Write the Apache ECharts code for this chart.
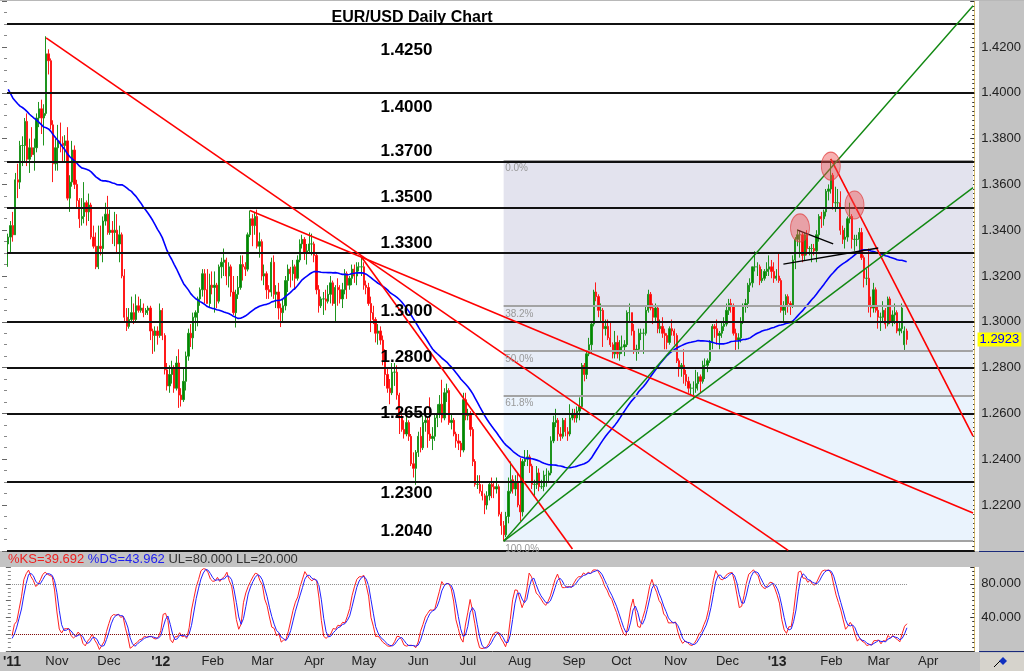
<!DOCTYPE html>
<html><head><meta charset="utf-8">
<script src="https://cdn.jsdelivr.net/npm/echarts@6/dist/echarts.min.js"></script>
<style>html,body{margin:0;padding:0;background:#fff;}#c{width:1024px;height:671px;}</style>
</head><body><div id="c"></div>
<script>
// ---------------- DATA (prices in 1/10000 units, EUR/USD daily, 5 Oct 2011 .. 19 Mar 2013) ----------------
const opens = [
13340,13370,13420,13380,13620,13610,13770,13770,13875,13710,13760,13730,13760,13890,13930,13890,13910,14170,14140,
13860,13690,13760,13790,13780,13770,13790,13540,13610,13750,13600,13530,13450,13460,13520,13480,13510,13370,13330,13240,13330,13320,
13440,13470,13390,13400,13390,13400,13340,13380,13200,13020,12980,13010,13040,13010,13070,13050,13060,13040,13050,13060,12960,12940,
12960,12940,13050,12940,12790,12720,12770,12800,12710,12820,12680,12660,12740,12850,12950,12930,13020,13040,13100,13140,13210,13140,
13080,13160,13150,13160,13090,13240,13260,13270,13200,13240,13130,13040,13120,13150,13250,13240,13230,13380,13450,13420,13460,
13330,13350,13200,13210,13140,13130,13260,13120,13130,13060,13040,13070,13180,13230,13210,13240,13190,13270,13340,13360,13300,13310,
13340,13340,13290,13140,13070,13100,13100,13090,13120,13170,13080,13150,13140,13100,13140,13210,13160,13190,13230,13200,13240,
13240,13240,13160,13150,13080,13040,13010,12950,12960,12920,12830,12770,12710,12690,12780,12780,12680,12580,12530,12510,12560,12500,12380,
12360,12430,12500,12450,12560,12570,12510,12490,12500,12580,12600,12640,12580,12690,12700,12560,12570,12510,12480,12470,12440,
12660,12590,12600,12530,12390,12290,12290,12260,12240,12200,12240,12290,12280,12270,12280,12160,12110,12070,12150,12260,12310,12270,
12300,12200,12170,12390,12400,12410,12370,12290,12290,12340,12280,12280,12330,12330,12340,12480,12560,12570,12510,12500,12570,12520,12510,
12580,12600,12580,12610,12630,12810,12770,12860,12900,12990,13130,13110,13050,13050,12970,12980,12930,12900,12860,12910,
12860,12890,12890,12900,13040,13040,12960,12870,12880,12950,12950,12950,13050,13120,13060,13020,13060,12970,12980,12950,12940,12910,12970,
12960,12940,12830,12800,12810,12770,12740,12710,12710,12710,12730,12760,12740,12810,12810,12830,12910,12980,12970,12940,12950,12980,
12990,13050,13080,13070,12950,12920,12930,13000,13070,13080,13160,13170,13240,13240,13240,13180,13190,13220,13230,13240,13220,
13190,13200,13180,13050,13070,13110,13080,13070,13270,13360,13380,13380,13290,13380,13320,13320,13320,13310,13380,13460,13450,13480,13570,
13580,13640,13520,13520,13520,13400,13360,13370,13450,13460,13360,13360,13360,13390,13280,13190,13190,13070,13060,13140,
13050,13020,13020,13050,12990,13100,13000,13030,13040,12960,12970,12900,12960];
const highs = [
13385,13440,13480,13650,13690,13790,13810,13890,13910,13800,13850,13800,13910,13960,13970,13950,14247,14190,14150,
13880,13800,13860,13870,13810,13815,13850,13640,13790,13770,13620,13540,13540,13610,13530,13560,13520,13420,13390,13420,13420,13460,
13520,13550,13490,13440,13480,13470,13420,13390,13230,13060,13060,13110,13080,13120,13110,13100,13080,13060,13070,13070,12970,12980,
12980,13080,13060,12950,12820,12810,12830,12810,12850,12880,12710,12800,12870,12970,12990,13040,13050,13110,13150,13230,13230,13230,
13210,13220,13220,13170,13250,13280,13320,13280,13260,13250,13200,13140,13200,13290,13290,13260,13390,13486,13470,13480,13490,
13390,13360,13250,13220,13160,13280,13290,13160,13170,13080,13100,13200,13250,13240,13270,13250,13290,13360,13380,13370,13340,13390,
13385,13350,13300,13160,13110,13130,13140,13160,13200,13180,13160,13190,13160,13170,13230,13220,13200,13250,13250,13260,13260,
13283,13260,13180,13170,13110,13070,13020,12990,12980,12940,12880,12800,12750,12820,12820,12810,12690,12620,12570,12590,12570,12510,12430,
12440,12520,12540,12590,12620,12580,12670,12540,12600,12640,12680,12747,12710,12730,12710,12600,12580,12520,12510,12480,12690,
12690,12620,12610,12540,12400,12330,12330,12290,12250,12260,12300,12320,12300,12320,12290,12170,12130,12170,12320,12390,12330,12330,
12340,12405,12400,12440,12440,12420,12380,12310,12370,12360,12310,12350,12360,12350,12500,12590,12620,12580,12540,12580,12580,12540,12640,
12620,12620,12630,12670,12820,12820,12870,12930,13000,13140,13172,13120,13080,13060,13010,13010,13000,12910,12960,12940,
12920,12940,12920,13050,13080,13040,12990,12900,12970,12970,12970,13070,13140,13130,13080,13080,13070,13010,13020,12970,12950,12980,13010,
12970,12950,12840,12820,12880,12790,12760,12730,12740,12790,12780,12770,12830,12840,12840,12920,12990,12990,13010,12960,13000,13020,
13080,13100,13100,13080,12970,12950,13020,13080,13100,13170,13190,13240,13308,13260,13250,13230,13230,13260,13290,13270,13260,
13230,13300,13190,13090,13120,13120,13090,13290,13370,13404,13400,13390,13390,13400,13330,13340,13340,13400,13470,13480,13490,13580,13600,
13711,13650,13590,13580,13570,13420,13410,13460,13520,13470,13380,13380,13410,13410,13290,13230,13320,13110,13170,13150,
13070,13040,13090,13060,13110,13110,13050,13080,13050,13000,13080,12980,12970];
const lows = [
13240,13300,13350,13380,13540,13580,13680,13700,13680,13650,13720,13660,13740,13850,13820,13770,13900,14080,13840,
13610,13660,13660,13740,13700,13700,13530,13480,13590,13580,13500,13410,13420,13430,13420,13440,13360,13320,13230,13230,13290,13260,
13420,13380,13380,13340,13330,13300,13260,13190,13000,12960,12970,13000,12990,13000,13040,13040,13020,13030,13030,12920,12860,12870,
12900,12930,12920,12770,12700,12690,12730,12690,12700,12624,12630,12650,12700,12830,12890,12880,12960,12980,13070,13110,13080,13080,
13060,13120,13040,13060,13080,13190,13200,13160,13150,13110,13030,12975,13100,13140,13180,13200,13220,13370,13330,13380,13320,
13280,13180,13160,13100,13100,13110,13100,13060,13010,12977,13000,13050,13130,13150,13180,13140,13180,13260,13320,13270,13250,13300,
13290,13260,13120,13040,13060,13030,13050,13080,13080,13070,12995,13070,13080,13060,13120,13100,13140,13160,13170,13160,13220,
13200,13140,13120,13070,12955,12990,12910,12900,12900,12810,12720,12690,12640,12680,12720,12660,12510,12520,12490,12500,12480,12370,12320,
12288,12410,12430,12440,12520,12450,12480,12440,12480,12540,12580,12560,12570,12650,12550,12530,12500,12450,12440,12410,12430,
12570,12570,12500,12370,12280,12270,12250,12220,12160,12180,12220,12230,12230,12250,12150,12070,12042,12060,12120,12250,12250,12240,
12190,12130,12150,12370,12370,12340,12270,12240,12270,12260,12270,12260,12280,12300,12330,12470,12540,12480,12480,12490,12500,12480,12500,
12570,12560,12560,12570,12620,12740,12750,12850,12860,12980,13090,13020,13000,12890,12940,12920,12890,12840,12840,12840,
12830,12860,12850,12890,13000,12940,12860,12830,12860,12920,12860,12940,13040,13050,12990,13000,12950,12950,12930,12880,12880,12900,12940,
12900,12820,12760,12760,12730,12720,12690,12680,12661,12690,12700,12690,12730,12750,12780,12820,12880,12930,12900,12880,12930,12960,
12980,13030,13040,12940,12877,12880,12910,12990,13040,13060,13130,13150,13220,13200,13160,13170,13180,13200,13200,13190,13170,
13180,13170,13040,12998,13030,13040,13030,13060,13230,13330,13280,13260,13270,13290,13290,13260,13290,13260,13350,13410,13420,13460,13530,
13560,13490,13480,13500,13380,13340,13320,13350,13430,13320,13310,13330,13310,13270,13150,13160,13040,13020,13040,13040,
12970,12960,13000,12970,12980,12990,12980,12990,12950,12940,12950,12877,12900];
const closes = [
13370,13420,13380,13620,13610,13770,13770,13875,13710,13760,13730,13760,13890,13930,13890,13910,14170,14140,13860,
13690,13760,13790,13780,13770,13790,13540,13610,13750,13600,13530,13450,13460,13520,13480,13510,13370,13330,13240,13330,13320,13440,
13470,13390,13400,13390,13400,13340,13380,13200,13020,12980,13010,13040,13010,13070,13050,13060,13040,13050,13060,12960,12940,12960,
12940,13050,12940,12790,12720,12770,12800,12710,12820,12680,12660,12740,12850,12950,12930,13020,13040,13100,13140,13210,13140,13080,
13160,13150,13160,13090,13240,13260,13270,13200,13240,13130,13040,13120,13150,13250,13240,13230,13380,13450,13420,13460,13330,
13350,13200,13210,13140,13130,13260,13120,13130,13060,13040,13070,13180,13230,13210,13240,13190,13270,13340,13360,13300,13310,13340,
13340,13290,13140,13070,13100,13100,13090,13120,13170,13080,13150,13140,13100,13140,13210,13160,13190,13230,13200,13240,13240,
13240,13160,13150,13080,13040,13010,12950,12960,12920,12830,12770,12710,12690,12780,12780,12680,12580,12530,12510,12560,12500,12380,12360,
12430,12500,12450,12560,12570,12510,12490,12500,12580,12600,12640,12580,12690,12700,12560,12570,12510,12480,12470,12440,12660,
12590,12600,12530,12390,12290,12290,12260,12240,12200,12240,12290,12280,12270,12280,12160,12110,12070,12150,12260,12310,12270,12300,
12200,12170,12390,12400,12410,12370,12290,12290,12340,12280,12280,12330,12330,12340,12480,12560,12570,12510,12500,12570,12520,12510,12580,
12600,12580,12610,12630,12810,12770,12860,12900,12990,13130,13110,13050,13050,12970,12980,12930,12900,12860,12910,12860,
12890,12890,12900,13040,13040,12960,12870,12880,12950,12950,12950,13050,13120,13060,13020,13060,12970,12980,12950,12940,12910,12970,12960,
12940,12830,12800,12810,12770,12740,12710,12710,12710,12730,12760,12740,12810,12810,12830,12910,12980,12970,12940,12950,12980,12990,
13050,13080,13070,12950,12920,12930,13000,13070,13080,13160,13170,13240,13240,13240,13180,13190,13220,13230,13240,13220,13190,
13200,13180,13050,13070,13110,13080,13070,13270,13360,13380,13380,13290,13380,13320,13320,13320,13310,13380,13460,13450,13480,13570,13580,
13640,13520,13520,13520,13400,13360,13370,13450,13460,13360,13360,13360,13390,13280,13190,13190,13070,13060,13140,13050,
13020,13020,13050,12990,13100,13000,13030,13040,12960,12970,13060,12960,12923];

// Closes before the chart window (28 Jul - 9 Sep 2011) used only to seed the 50-day average
const maSeedCloses = [14340,14390,14250,14190,14300,14070,14280,14200,14340,14170,14230,14250,14420,14400,14440,14320,14390,14400,14450,14400,14390,14500,14480,14440,14370,14240,14210,14070,14000,14050,13890,13650];
// 12 Sep - 4 Oct 2011 (seed for the average and the stochastic)
const preCloses = [13660,13690,13750,13880,13790,13680,13700,13580,13460,13500,13550,13590,13540,13600,13390,13170,13340];
const preHighs  = [13700,13720,13790,13920,13930,13780,13770,13800,13590,13530,13550,13670,13620,13670,13600,13400,13360];
const preLows   = [13495,13610,13600,13730,13740,13600,13630,13560,13360,13380,13390,13520,13500,13530,13380,13160,13146];

// Support / resistance levels and their labels
const levels = [1.4250, 1.4000, 1.3700, 1.3500, 1.3300, 1.3000, 1.2800, 1.2650, 1.2300, 1.2040];
const levelText = ['1.4250','1.4000','1.3700','1.3500','1.3300','1.3000','1.2800','1.2650','1.2300','1.2040'];
// Fibonacci retracement of the Jul-2012 low to the Feb-2013 high
const fibHigh = 1.3705, fibLow = 1.2042, fibStartIndex = 209;
const fibRatios = [0, 0.382, 0.5, 0.618, 1];
const fibText = ['0.0%','38.2%','50.0%','61.8%','100.0%'];
// Trendlines: [startIndex, startPrice, endIndex, endPrice]
const redLines = [[16,1.4240,329,1.2002],[102,1.3486,407,1.2165],[149,1.3283,238,1.2008],[347,1.3711,407,1.2501]];
const greenLines = [[209,1.2042,407,1.4380],[209,1.2042,407,1.3586]];
const blackLines = [[327,1.3252,367,1.3322],[333,1.3400,348,1.3340]];
// Head & shoulders markers [index, price]
const patternMarks = [[334,1.3410],[347,1.3680],[357,1.3510]];
const tickLabels = { stochHeaderK: '%KS=39.692', stochHeaderD: '%DS=43.962', stochHeaderRest: 'UL=80.000 LL=20.000' };
const stochUL = 80, stochLL = 20;

// ---------------- build ----------------
const N_CATS = 408;
const dates = [];
for (let t = Date.UTC(2011, 9, 5); dates.length < N_CATS; t += 86400000) {
  const d = new Date(t), wd = d.getUTCDay();
  if (wd !== 0 && wd !== 6) dates.push(d.toISOString().slice(0, 10));
}
const P = v => v / 10000;
const candles = closes.map((c, i) => [P(opens[i]), P(c), P(lows[i]), P(highs[i])]);

// 50-day simple moving average
const allC = maSeedCloses.concat(preCloses, closes);
const off = maSeedCloses.length + preCloses.length;
const ma = closes.map((_, i) => { let s = 0; for (let k = i + off - 49; k <= i + off; k++) s += allC[k]; return +(s / 50 / 10000).toFixed(5); });

// Slow stochastic (14,3,3)
const H = preHighs.concat(highs), L = preLows.concat(lows), C = preCloses.concat(closes);
const fastK = C.map((c, j) => { let hh = -1e9, ll = 1e9; for (let k = Math.max(0, j - 13); k <= j; k++) { hh = Math.max(hh, H[k]); ll = Math.min(ll, L[k]); } return hh > ll ? 100 * (c - ll) / (hh - ll) : 50; });
const sm3 = a => a.map((v, j) => j >= 2 ? (a[j] + a[j - 1] + a[j - 2]) / 3 : v);
const slowK = sm3(fastK), slowD = sm3(slowK);
const kS = slowK.slice(preCloses.length).map(v => +v.toFixed(3));
const dS = slowD.slice(preCloses.length).map(v => +v.toFixed(3));

const FONT = 'Liberation Sans, Arial, sans-serif';
const MONTHS = ['Jan','Feb','Mar','Apr','May','Jun','Jul','Aug','Sep','Oct','Nov','Dec'];
const lastIdx = closes.length - 1;

const fibPrices = fibRatios.map(r => fibHigh - r * (fibHigh - fibLow));
const bandColors = ['#e3e3ee', '#e5e8f2', '#e7edf7', '#eaf3fd'];
const belowSide = [true, true, false, false, false, false, false, true, true, false];

const seg = (a, color, w) => [{ coord: [a[0], a[1]], lineStyle: { color: color, width: w, type: 'solid' } }, { coord: [a[2], a[3]] }];

const option = {
  animation: false,
  backgroundColor: '#ffffff',
  textStyle: { fontFamily: FONT },
  grid: [
    { left: 7, right: 46, top: 1.2, height: 549.6 },
    { left: 7, right: 46, top: 567, height: 84 }
  ],
  xAxis: [
    { type: 'category', gridIndex: 0, data: dates, boundaryGap: true,
      axisLabel: { show: false }, axisTick: { show: false }, splitLine: { show: false },
      axisLine: { show: true, lineStyle: { color: '#000', width: 1 } } },
    { type: 'category', gridIndex: 1, data: dates, boundaryGap: true,
      axisTick: { show: false }, splitLine: { show: false },
      axisLine: { show: true, lineStyle: { color: '#333', width: 1 } },
      axisLabel: {
        margin: 4, color: '#222', fontSize: 13, fontFamily: FONT,
        interval: (i) => i === 0 || dates[i].slice(5, 7) !== dates[i - 1].slice(5, 7),
        formatter: (v, i) => { const m = +v.slice(5, 7); if (i === 0 || m === 1) return "{y|'" + v.slice(2, 4) + "}"; return MONTHS[m - 1]; },
        rich: { y: { fontWeight: 'bold', fontSize: 14, color: '#222', fontFamily: FONT } }
      } }
  ],
  yAxis: [
    { type: 'value', gridIndex: 0, position: 'right', min: 1.20, max: 1.44, interval: 0.02,
      splitLine: { show: false },
      axisLine: { show: true, lineStyle: { color: '#d9bf70', width: 1 } },
      axisTick: { show: true, inside: true, length: 4, lineStyle: { color: '#333' } },
      minorTick: { show: true, splitNumber: 10, length: 2, lineStyle: { color: '#333' } },
      axisLabel: { formatter: v => v.toFixed(4), color: '#222', fontSize: 13, margin: 7, fontFamily: FONT, showMinLabel: false, showMaxLabel: false } },
    { type: 'value', gridIndex: 0, position: 'left', min: 1.20, max: 1.44, interval: 0.02,
      splitLine: { show: false }, axisLine: { show: false }, axisLabel: { show: false },
      axisTick: { show: true, length: 5, lineStyle: { color: '#666' } },
      minorTick: { show: true, splitNumber: 4, length: 3, lineStyle: { color: '#888' } } },
    { type: 'value', gridIndex: 1, position: 'right', min: 0, max: 100, interval: 40,
      splitLine: { show: false },
      axisLine: { show: true, lineStyle: { color: '#d9bf70', width: 1 } },
      axisTick: { show: true, inside: true, length: 4, lineStyle: { color: '#333' } },
      minorTick: { show: true, splitNumber: 8, length: 2, lineStyle: { color: '#333' } },
      axisLabel: { formatter: v => v.toFixed(3), color: '#222', fontSize: 13, margin: 7, fontFamily: FONT, showMinLabel: false, showMaxLabel: false } },
    { type: 'value', gridIndex: 1, position: 'left', min: 0, max: 100, interval: 20,
      splitLine: { show: false }, axisLine: { show: false }, axisLabel: { show: false },
      axisTick: { show: true, length: 5, lineStyle: { color: '#666' } },
      minorTick: { show: true, splitNumber: 4, length: 3, lineStyle: { color: '#888' } } }
  ],
  series: [
    { name: 'fibBands', type: 'line', xAxisIndex: 0, yAxisIndex: 0, data: [], z: 0, silent: true,
      markArea: { silent: true, data: bandColors.map((col, k) => [
        { coord: [fibStartIndex, fibPrices[k]], itemStyle: { color: col } },
        { coord: [N_CATS - 1, fibPrices[k + 1]] }]) } },
    { name: 'levels', type: 'line', xAxisIndex: 0, yAxisIndex: 0, data: [], z: 1, silent: true,
      markLine: { silent: true, symbol: 'none', label: { show: false },
        data: fibPrices.map(p => [{ coord: [fibStartIndex, p], lineStyle: { color: '#a3a3a3', width: 2, type: 'solid' } }, { coord: [N_CATS - 1, p] }])
          .concat(levels.map(v => ({ yAxis: v, lineStyle: { color: '#111', width: 2, type: 'solid' } }))) } },
    { name: 'EUR/USD', type: 'candlestick', xAxisIndex: 0, yAxisIndex: 0, data: candles, z: 2, barWidth: 1.8,
      itemStyle: { color: '#008800', color0: '#ff0000', borderColor: '#1e941e', borderColor0: '#ff1a1a', borderWidth: 1 } },
    { name: 'MA50', type: 'line', xAxisIndex: 0, yAxisIndex: 0, data: ma, z: 3, symbol: 'none', silent: true,
      lineStyle: { color: '#0000ff', width: 1.6 } },
    { name: 'annotations', type: 'line', xAxisIndex: 0, yAxisIndex: 0, data: [], z: 4, silent: true,
      markLine: { silent: true, symbol: 'none', label: { show: false },
        data: redLines.map(a => seg(a, '#ff0000', 1.6))
          .concat(greenLines.map(a => seg(a, '#118811', 1.4)))
          .concat(blackLines.map(a => seg(a, '#000000', 1.4))) },
      markPoint: { silent: true, data:
        levels.map((v, k) => ({ coord: [168, v], symbol: 'rect', symbolSize: 1, itemStyle: { color: 'rgba(0,0,0,0)' },
          label: { show: true, position: 'inside', offset: [0, belowSide[k] ? (k < 2 ? 15 : 11) : -10], formatter: levelText[k],
            color: '#000', fontWeight: 'bold', fontSize: 17, fontFamily: FONT } }))
        .concat(fibPrices.map((p, k) => ({ coord: [fibStartIndex, p], symbol: 'rect', symbolSize: 1, itemStyle: { color: 'rgba(0,0,0,0)' },
          label: { show: true, position: 'right', distance: 1, offset: [0, 8], formatter: fibText[k], color: '#999', fontSize: 10, fontFamily: FONT } })))
        .concat(patternMarks.map(m => ({ coord: m, symbol: 'circle', symbolSize: [19, 28],
          itemStyle: { color: 'rgba(238,80,80,0.45)', borderColor: 'rgba(225,60,60,0.7)', borderWidth: 1 }, label: { show: false } })))
        .concat([{ coord: [N_CATS - 1, P(closes[lastIdx])], symbol: 'rect', symbolSize: 1, itemStyle: { color: 'rgba(0,0,0,0)' },
          label: { show: true, position: 'right', distance: 4, formatter: P(closes[lastIdx]).toFixed(4),
            color: '#0000ff', backgroundColor: '#ffff00', padding: [1, 2, 0, 2], fontSize: 13, fontFamily: FONT } }])
      } },
    { name: '%KS', type: 'line', xAxisIndex: 1, yAxisIndex: 2, data: kS, symbol: 'none', silent: true, z: 3,
      lineStyle: { color: '#ff2020', width: 1 },
      markLine: { silent: true, symbol: 'none', label: { show: false }, data: [
        [{ coord: [0, stochUL], lineStyle: { color: '#8c8c8c', width: 1, type: 'dotted' } }, { coord: [lastIdx, stochUL] }],
        [{ coord: [0, stochLL], lineStyle: { color: '#7a0000', width: 1, type: 'dotted' } }, { coord: [lastIdx, stochLL] }]] } },
    { name: '%DS', type: 'line', xAxisIndex: 1, yAxisIndex: 2, data: dS, symbol: 'none', silent: true, z: 4,
      lineStyle: { color: '#2020ff', width: 1 } }
  ],
  graphic: [
    { type: 'rect', z: -10, shape: { x: 979, y: 0, width: 45, height: 671 }, style: { fill: '#c3c3c3' } },
    { type: 'rect', z: -10, shape: { x: 0, y: 551, width: 1024, height: 16 }, style: { fill: '#c3c3c3' } },
    { type: 'rect', z: -10, shape: { x: 0, y: 652, width: 1024, height: 19 }, style: { fill: '#c3c3c3' } },
    { type: 'rect', z: -10, shape: { x: 0, y: 0, width: 1024, height: 1 }, style: { fill: '#b8b8b8' } },
    { type: 'rect', z: -9, shape: { x: 979, y: 551, width: 45, height: 1 }, style: { fill: '#1a2a7a' } },
    { type: 'rect', z: -9, shape: { x: 979, y: 651, width: 45, height: 1 }, style: { fill: '#1a2a7a' } },
    { type: 'rect', z: -9, shape: { x: 980, y: 653, width: 44, height: 18 }, style: { fill: '#d6d3cc' } },
    { type: 'polygon', z: 5, shape: { points: [[1003, 657], [1007, 661], [1003, 665], [999, 661]] }, style: { fill: '#1030c0' } },
    { type: 'line', z: 5, shape: { x1: 994, y1: 667, x2: 1000, y2: 661 }, style: { stroke: '#000', lineWidth: 1 } },
    { type: 'text', z: 10, x: 412, y: 17.5, style: { text: 'EUR/USD Daily Chart', fontSize: 16, fontWeight: 'bold', fontFamily: FONT, fill: '#000', align: 'center', verticalAlign: 'middle' } },
    { type: 'text', z: 10, x: 8, y: 559.5, style: {
      text: '{k|' + tickLabels.stochHeaderK + '} {d|' + tickLabels.stochHeaderD + '} {r|' + tickLabels.stochHeaderRest + '}',
      verticalAlign: 'middle', fontSize: 13, fontFamily: FONT,
      rich: { k: { fill: '#ee2020', fontSize: 13, fontFamily: FONT }, d: { fill: '#2020ee', fontSize: 13, fontFamily: FONT }, r: { fill: '#333', fontSize: 13, fontFamily: FONT } } } }
  ]
};

const chart = echarts.init(document.getElementById('c'), null, { renderer: 'canvas', width: 1024, height: 671 });
chart.setOption(option);
</script>
</body></html>
